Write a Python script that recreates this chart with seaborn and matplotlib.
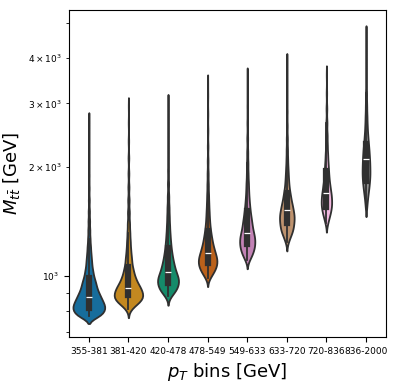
import numpy as np
import pandas as pd
import matplotlib
matplotlib.use('Agg')
import matplotlib.pyplot as plt
import seaborn as sns

# p_T 分箱标签
pt_bins = ['355-381', '381-420', '420-478', '478-549',
           '549-633', '633-720', '720-836', '836-2000']

# 每个分箱: M_tt 取值 [GeV] 与对应事例数（按图中小提琴宽度估读）
mass_355_381 = [775, 795, 815, 835, 855, 875, 895, 915, 940, 965, 990, 1020, 1050, 1085,
                1120, 1160, 1210, 1270, 1340, 1420, 1510, 1620, 1750, 1900, 2080, 2300, 2700]
count_355_381 = [78, 95, 104, 96, 80, 71, 57, 53, 53, 42, 37, 32, 27, 24,
                 21, 20, 19, 15, 13, 11, 9, 7, 5, 4, 3, 2, 2]

mass_381_420 = [810, 830, 850, 870, 890, 910, 930, 950, 975, 1000, 1030, 1060, 1100,
                1140, 1190, 1250, 1320, 1400, 1500, 1620, 1760, 1920, 2120, 2360, 2650, 2950]
count_381_420 = [14, 39, 75, 90, 86, 78, 66, 61, 51, 45, 38, 34, 31,
                 28, 26, 24, 20, 17, 15, 12, 9, 7, 6, 4, 3, 2]

mass_420_478 = [880, 900, 920, 940, 960, 980, 1000, 1025, 1050, 1075, 1100, 1130, 1160,
                1200, 1250, 1310, 1380, 1460, 1550, 1660, 1800, 1960, 2150, 2380, 2650, 3000]
count_420_478 = [14, 32, 44, 49, 51, 50, 50, 45, 37, 31, 30, 26, 25,
                 26, 25, 22, 19, 16, 14, 11, 9, 7, 5, 4, 3, 2]

mass_478_549 = [990, 1010, 1035, 1060, 1085, 1110, 1135, 1160, 1190, 1220, 1255, 1290, 1330,
                1380, 1440, 1510, 1590, 1680, 1790, 1920, 2080, 2280, 2520, 2800, 3150, 3400]
count_478_549 = [12, 23, 40, 47, 51, 50, 43, 41, 37, 32, 29, 24, 23,
                 21, 19, 17, 14, 12, 10, 8, 6, 5, 4, 3, 2, 1]

mass_549_633 = [1110, 1140, 1170, 1200, 1230, 1260, 1290, 1320, 1350, 1385, 1420, 1460, 1510,
                1570, 1640, 1720, 1810, 1920, 2050, 2200, 2400, 2650, 2950, 3300, 3550]
count_549_633 = [13, 25, 32, 37, 38, 37, 35, 28, 26, 25, 23, 23, 22,
                 20, 17, 14, 13, 10, 9, 7, 6, 4, 3, 1, 1]

mass_633_720 = [1240, 1280, 1320, 1360, 1400, 1440, 1480, 1520, 1560, 1600, 1650, 1700,
                1760, 1830, 1910, 2000, 2110, 2240, 2400, 2600, 2850, 3150, 3500, 3900]
count_633_720 = [9, 20, 33, 39, 40, 42, 40, 34, 29, 27, 24, 20,
                 17, 15, 13, 11, 9, 8, 7, 5, 4, 3, 2, 1]

mass_720_836 = [1400, 1450, 1500, 1550, 1600, 1650, 1700, 1760, 1820, 1890, 1970, 2060,
                2170, 2300, 2450, 2650, 2900, 3200, 3600]
count_720_836 = [9, 18, 27, 32, 33, 29, 29, 25, 20, 19, 17, 15,
                 13, 10, 9, 7, 5, 3, 2]

mass_836_2000 = [1560, 1650, 1740, 1830, 1920, 2010, 2100, 2200, 2310, 2440, 2590, 2760,
                 2960, 3200, 3500, 3850, 4250, 4600]
count_836_2000 = [7, 13, 21, 26, 28, 25, 24, 22, 19, 15, 11, 9,
                  7, 6, 4, 2, 1, 1]

masses = [mass_355_381, mass_381_420, mass_420_478, mass_478_549,
          mass_549_633, mass_633_720, mass_720_836, mass_836_2000]
counts = [count_355_381, count_381_420, count_420_478, count_478_549,
          count_549_633, count_633_720, count_720_836, count_836_2000]

# 展开成长表
frames = []
for label, m, c in zip(pt_bins, masses, counts):
    frames.append(pd.DataFrame({'pt_bin': label, 'mtt': np.repeat(m, c)}))
df = pd.concat(frames, ignore_index=True)

fig, ax = plt.subplots(figsize=(3.99, 3.85), dpi=100)
fig.subplots_adjust(left=0.173, right=0.967, top=0.974, bottom=0.125)

sns.violinplot(data=df, x='pt_bin', y='mtt', hue='pt_bin', order=pt_bins,
               hue_order=pt_bins, palette='colorblind', legend=False,
               log_scale=True, density_norm='count', common_norm=True,
               bw_adjust=0.5, linewidth=1.3,
               inner_kws=dict(box_width=4.5, whis_width=1.3), ax=ax)

ax.set_ylim(680, 5430)
ax.set_xlabel(r'$p_T$ bins [GeV]', fontsize=13)
ax.set_ylabel(r'$M_{t\bar{t}}$ [GeV]', fontsize=13)
ax.tick_params(axis='both', which='both', labelsize=6.5)

fig.savefig('out.png', dpi=100)
